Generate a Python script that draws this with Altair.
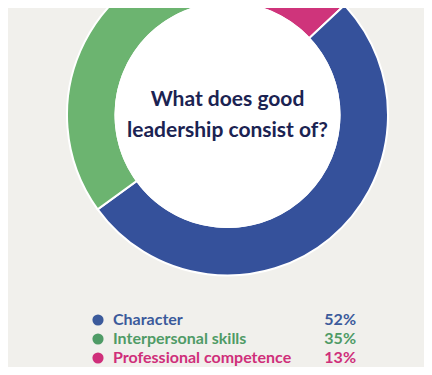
import math
import altair as alt
import pandas as pd

# --- data ---
categories = ["Professional competence", "Character", "Interpersonal skills"]
shares = [13, 52, 35]
slice_colors = ["#cf347b", "#35519b", "#6cb470"]

legend_order = ["Character", "Interpersonal skills", "Professional competence"]
legend_shares = [52, 35, 13]
legend_colors = ["#3b5a9b", "#4f9b66", "#cf2f7a"]

title_lines = ["What does good", "leadership consist of?"]

# --- tables ---
ring_df = pd.DataFrame({"category": categories, "share": shares, "order": list(range(len(categories)))})
leg_df = pd.DataFrame({"category": legend_order,
                       "label": [f"{v}%" for v in legend_shares]})

W, H = 416, 359
cx, cy = 219.5, 107

hole = alt.Chart(pd.DataFrame({"a": [0]})).mark_arc(
    innerRadius=0, outerRadius=113, theta=0, theta2=2 * math.pi, fill="white"
).encode(x=alt.value(cx), y=alt.value(cy))

ring = alt.Chart(ring_df).mark_arc(
    innerRadius=112, outerRadius=160.5, stroke="white", strokeWidth=2
).encode(
    theta=alt.Theta("share:Q", stack=True),
    order=alt.Order("order:Q"),
    color=alt.Color("category:N", scale=alt.Scale(domain=categories, range=slice_colors), legend=None),
    x=alt.value(cx),
    y=alt.value(cy),
)

center_text = alt.Chart(pd.DataFrame({"a": [0]})).mark_text(
    text=title_lines, font="Lato", fontWeight="bold", fontSize=21,
    lineHeight=31, color="#1b2352", baseline="middle", align="center"
).encode(x=alt.value(cx), y=alt.value(92))

yenc = alt.Y("category:N", scale=alt.Scale(domain=legend_order, range=[312, 350], padding=0), axis=None)
lcolor = alt.Color("category:N", scale=alt.Scale(domain=legend_order, range=legend_colors), legend=None)

dots = alt.Chart(leg_df).mark_circle(size=125, opacity=1).encode(
    x=alt.value(90), y=yenc, color=lcolor
)
names = alt.Chart(leg_df).mark_text(
    align="left", baseline="middle", font="Lato", fontWeight="bold", fontSize=16
).encode(x=alt.value(105), y=yenc, text="category:N", color=lcolor)
pcts = alt.Chart(leg_df).mark_text(
    align="right", baseline="middle", font="Lato", fontWeight="bold", fontSize=16
).encode(x=alt.value(348), y=yenc, text="label:N", color=lcolor)

chart = alt.layer(ring, hole, center_text, dots, names, pcts).resolve_scale(
    color="independent"
).properties(
    width=W, height=H, autosize=alt.AutoSizeParams(type="none"), padding=0,
    background="#f1f0ec"
).configure_view(stroke=None)

chart.save("out.html", embed_options={"renderer": "svg", "actions": False})
